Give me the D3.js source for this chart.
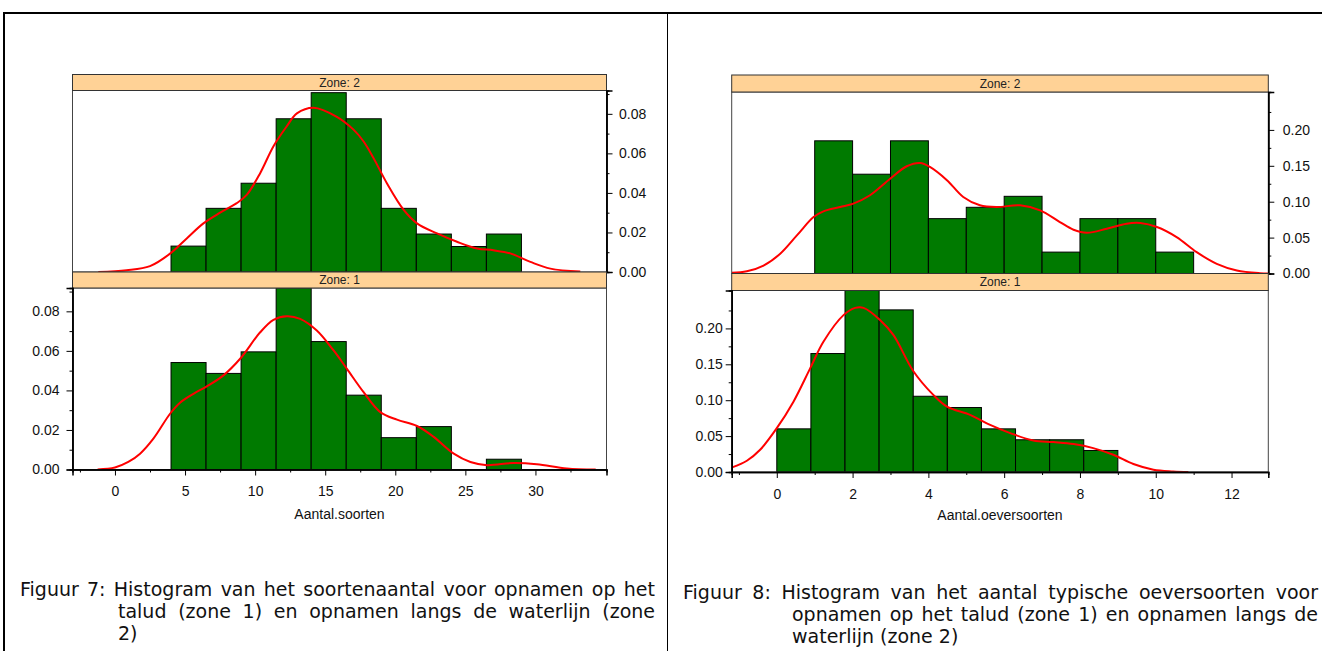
<!DOCTYPE html>
<html>
<head>
<meta charset="utf-8">
<script src="https://cdn.jsdelivr.net/npm/d3@7"></script>
<style>
  body { margin: 0; background: #fff; }
  svg { display: block; }
</style>
</head>
<body>
<svg id="fig" width="1322" height="651"></svg>
<script>
// ---- data ----
// Figuur 7: Aantal.soorten (bin width 2.5)
const soortenBreaks = [4, 6.5, 9, 11.5, 14, 16.5, 19, 21.5, 24, 26.5, 29];
const soortenZone2 = [0.0131, 0.0322, 0.0449, 0.0775, 0.0907, 0.0775, 0.0322, 0.0192, 0.0129, 0.0192];
const soortenZone1 = [0.0541, 0.0486, 0.0595, 0.0919, 0.0647, 0.0376, 0.0161, 0.0217, 0, 0.0052];
const soortenDensZone2 = [[-1.19,0],[0.83,0.0009],[2.5,0.003],[3.93,0.0093],[5.12,0.017],[6.31,0.0246],[7.5,0.030],
  [8.69,0.0348],[9.4,0.039],[10.36,0.050],[11.31,0.0636],[12.26,0.0737],[12.98,0.0802],[14.17,0.0831],[15.83,0.0785],
  [17.02,0.072],[17.74,0.066],[18.45,0.0576],[19.4,0.0449],[20.6,0.0314],[21.55,0.0246],[22.98,0.0195],[24.4,0.0153],
  [25.83,0.0119],[27.0,0.011],[28.2,0.0094],[29.64,0.0051],[31.07,0.0017],[33.2,0.0002]];
const soortenDensZone1 = [[-1.24,0],[0,0.001],[0.95,0.0038],[1.79,0.008],[2.74,0.0156],[3.93,0.0282],[4.64,0.0338],
  [5.6,0.0383],[6.55,0.042],[7.74,0.0476],[8.93,0.056],[10.36,0.0694],[11.31,0.0757],[12.26,0.0775],[13.21,0.0762],
  [14.4,0.0703],[15.6,0.0602],[16.55,0.0509],[17.74,0.0391],[18.93,0.029],[20.12,0.0252],[21.55,0.022],[22.74,0.0165],
  [24.17,0.008],[25.36,0.0038],[26.55,0.0022],[28.45,0.0033],[30.1,0.0027],[32.24,0.0005],[34.3,0]];

// Figuur 8: Aantal.oeversoorten
const oeverBreaks2 = [1, 2, 3, 4, 5, 6, 7, 8, 9, 10, 11];
const oeverZone2 = [0.1848, 0.1383, 0.1848, 0.0764, 0.0922, 0.1075, 0.0298, 0.0764, 0.0764, 0.0298];
const oeverBreaks1 = [0, 0.9, 1.8, 2.7, 3.6, 4.5, 5.4, 6.3, 7.2, 8.1, 9.0];
const oeverZone1 = [0.0601, 0.165, 0.285, 0.2258, 0.1055, 0.0898, 0.0601, 0.0449, 0.0449, 0.030];
const oeverDensZone2 = [[-1.19,0.001],[-0.79,0.003],[-0.35,0.011],[0.09,0.0275],[0.53,0.053],[0.97,0.0786],[1.23,0.0866],
  [1.67,0.0926],[2.02,0.0973],[2.46,0.109],[2.99,0.132],[3.43,0.1494],[3.78,0.154],[4.04,0.1485],[4.49,0.13],
  [4.92,0.1066],[5.36,0.095],[5.8,0.0926],[6.42,0.095],[6.95,0.088],[7.47,0.0717],[7.83,0.061],[8.18,0.0568],
  [8.71,0.0624],[9.23,0.0694],[9.59,0.0703],[10.03,0.0647],[10.55,0.0507],[11.08,0.0297],[11.61,0.0135],
  [12.14,0.0042],[12.75,0.0004],[12.97,0]];
const oeverDensZone1 = [[-1.18,0.0064],[-0.79,0.0157],[-0.44,0.031],[0,0.0611],[0.44,0.098],[0.88,0.1444],[1.23,0.1814],
  [1.76,0.2185],[2.07,0.2286],[2.29,0.2286],[2.73,0.2115],[3.08,0.1907],[3.6,0.1407],[4.13,0.1074],[4.49,0.0911],
  [5.1,0.0796],[5.63,0.0657],[6.16,0.0542],[6.77,0.0439],[7.3,0.0417],[7.83,0.0389],[8.35,0.0333],[8.88,0.024],
  [9.41,0.0111],[9.94,0.0032],[10.46,0.0008],[10.86,0]];

const soortenXTicks = [0, 5, 10, 15, 20, 25, 30];
const soortenXMinor = [-2.5, 2.5, 7.5, 12.5, 17.5, 22.5, 27.5, 32.5];
const soortenYTicks = [0, 0.02, 0.04, 0.06, 0.08];
const soortenYMinor = [0.01, 0.03, 0.05, 0.07, 0.09];
const oeverXTicks = [0, 2, 4, 6, 8, 10, 12];
const oeverXMinor = [-1, 1, 3, 5, 7, 9, 11];
const oeverYTicks = [0, 0.05, 0.10, 0.15, 0.20];
const oeverYMinor = [0.025, 0.075, 0.125, 0.175, 0.225];

const caption7 = [
  "Figuur 7: Histogram van het soortenaantal voor opnamen op het",
  "talud (zone 1) en opnamen langs de waterlijn (zone",
  "2)"];
const caption8 = [
  "Figuur 8: Histogram van het aantal typische oeversoorten voor",
  "opnamen op het talud (zone 1) en opnamen langs de",
  "waterlijn (zone 2)"];

// ---- drawing ----
const svg = d3.select("#fig");
const axisFont = "'Liberation Sans', Arial, sans-serif";
const capFont = "'DejaVu Sans', Verdana, sans-serif";
const stripFill = "#ffd296";
const barFill = "#007a00";

// page frame (table borders)
svg.append("line").attr("x1", 3).attr("x2", 1322).attr("y1", 13).attr("y2", 13)
  .attr("stroke", "#000").attr("stroke-width", 2);
svg.append("line").attr("x1", 4).attr("x2", 4).attr("y1", 12).attr("y2", 651)
  .attr("stroke", "#000").attr("stroke-width", 2);
svg.append("line").attr("x1", 667.5).attr("x2", 667.5).attr("y1", 13).attr("y2", 651)
  .attr("stroke", "#000").attr("stroke-width", 1);

let clipId = 0;

function drawChart(cfg) {
  const x = d3.scaleLinear().domain(cfg.xDomain).range([cfg.left, cfg.right]);
  const stripH = cfg.stripH, panelH = cfg.panelH;
  // zone 2 on top, zone 1 below
  const panels = [
    {label: "Zone: 2", breaks: cfg.breaks2, vals: cfg.zone2, dens: cfg.dens2, top: cfg.top},
    {label: "Zone: 1", breaks: cfg.breaks1, vals: cfg.zone1, dens: cfg.dens1, top: cfg.top + stripH + panelH}
  ];

  panels.forEach(function (p, i) {
    const pTop = p.top + stripH, pBot = pTop + panelH;
    const y = d3.scaleLinear().domain([0, cfg.yMax]).range([pBot, pTop]);
    const id = "clip" + (clipId++);
    svg.append("clipPath").attr("id", id).append("rect")
      .attr("x", cfg.left).attr("y", pTop).attr("width", cfg.right - cfg.left).attr("height", panelH);

    const g = svg.append("g").attr("clip-path", "url(#" + id + ")");
    const bins = p.vals.map((v, k) => ({x0: p.breaks[k], x1: p.breaks[k + 1], v: v})).filter(d => d.v > 0);
    g.selectAll("rect.bar").data(bins).enter().append("rect")
      .attr("class", "bar")
      .attr("x", d => x(d.x0)).attr("width", d => x(d.x1) - x(d.x0))
      .attr("y", d => y(d.v)).attr("height", d => y(0) - y(d.v))
      .attr("fill", barFill).attr("stroke", "#000").attr("stroke-width", 1);

    g.append("path").datum(p.dens)
      .attr("d", d3.line().x(d => x(d[0])).y(d => y(d[1])).curve(d3.curveCatmullRom))
      .attr("fill", "none").attr("stroke", "#ff0000").attr("stroke-width", 2);

    // panel border
    svg.append("rect").attr("x", cfg.left).attr("y", pTop).attr("width", cfg.right - cfg.left).attr("height", panelH)
      .attr("fill", "none").attr("stroke", "#444").attr("stroke-width", 1);

    // strip
    svg.append("rect").attr("x", cfg.left).attr("y", p.top).attr("width", cfg.right - cfg.left).attr("height", stripH)
      .attr("fill", stripFill).attr("stroke", "#333").attr("stroke-width", 1);
    svg.append("text").attr("x", (cfg.left + cfg.right) / 2).attr("y", p.top + stripH / 2 + 4)
      .attr("text-anchor", "middle").attr("font-family", axisFont).attr("font-size", 12)
      .attr("fill", "#222").text(p.label);

    // y axis: right side for top panel, left side for bottom panel (lattice alternation)
    const isTop = i === 0;
    const mk = isTop ? d3.axisRight : d3.axisLeft;
    const ax = isTop ? cfg.right : cfg.left;
    const pad = isTop ? cfg.padYRight : cfg.padYLeft;
    const major = svg.append("g").attr("transform", `translate(${ax},0)`)
      .call(mk(y).tickValues(cfg.yTicks).tickSize(6).tickPadding(pad).tickFormat(d3.format(".2f")));
    const minor = svg.append("g").attr("transform", `translate(${ax},0)`)
      .call(mk(y).tickValues(cfg.yMinor.filter(v => v <= cfg.yMax)).tickSize(3).tickFormat(""));
    [major, minor].forEach(function (a) {
      a.select(".domain").attr("stroke", "#000").attr("stroke-width", 1.5);
      a.selectAll("text").attr("font-family", axisFont).attr("font-size", 14).attr("fill", "#111");
    });

    if (!isTop) {
      const xa = svg.append("g").attr("transform", `translate(0,${pBot})`)
        .call(d3.axisBottom(x).tickValues(cfg.xTicks).tickSize(6).tickPadding(11).tickFormat(d3.format("d")));
      const xm = svg.append("g").attr("transform", `translate(0,${pBot})`)
        .call(d3.axisBottom(x).tickValues(cfg.xMinor).tickSize(3).tickFormat(""));
      [xa, xm].forEach(function (a) {
        a.select(".domain").attr("stroke", "#000").attr("stroke-width", 1.5);
        a.selectAll("text").attr("font-family", axisFont).attr("font-size", 14).attr("fill", "#111");
      });
      svg.append("text").attr("x", (cfg.left + cfg.right) / 2).attr("y", pBot + cfg.titleOffset)
        .attr("text-anchor", "middle").attr("font-family", axisFont).attr("font-size", 14)
        .attr("fill", "#111").text(cfg.xTitle);
    }
  });
}

drawChart({
  left: 72.5, right: 606.5, top: 74.5, stripH: 16, panelH: 181.5,
  xDomain: [-3.03, 35.07], yMax: 0.0918,
  breaks2: soortenBreaks, zone2: soortenZone2, dens2: soortenDensZone2,
  breaks1: soortenBreaks, zone1: soortenZone1, dens1: soortenDensZone1,
  xTicks: soortenXTicks, xMinor: soortenXMinor, yTicks: soortenYTicks, yMinor: soortenYMinor,
  padYRight: 6.5, padYLeft: 7, titleOffset: 49, xTitle: "Aantal.soorten"
});

drawChart({
  left: 731.7, right: 1268.3, top: 75, stripH: 17, panelH: 181.5,
  xDomain: [-1.19, 12.97], yMax: 0.2528,
  breaks2: oeverBreaks2, zone2: oeverZone2, dens2: oeverDensZone2,
  breaks1: oeverBreaks1, zone1: oeverZone1, dens1: oeverDensZone1,
  xTicks: oeverXTicks, xMinor: oeverXMinor, yTicks: oeverYTicks, yMinor: oeverYMinor,
  padYRight: 8.5, padYLeft: 3, titleOffset: 48, xTitle: "Aantal.oeversoorten"
});

// ---- captions, justified like the word processor did ----
function caption(lines, xFirst, xIndent, xEnd, y0, lineH) {
  lines.forEach(function (line, i) {
    const words = line.split(" ");
    const x0 = i === 0 ? xFirst : xIndent;
    const justify = i < lines.length - 1;
    const g = svg.append("g");
    const t = g.selectAll("text").data(words).enter().append("text")
      .attr("y", y0 + i * lineH).attr("font-family", capFont).attr("font-size", 19)
      .attr("fill", "#111").text(d => d);
    const widths = [];
    t.each(function () { widths.push(this.getComputedTextLength()); });
    const total = d3.sum(widths);
    const gap = justify && words.length > 1 ? (xEnd - x0 - total) / (words.length - 1) : 19 * 0.318;
    let cx = x0;
    t.attr("x", function (d, k) { const v = cx; cx += widths[k] + gap; return v; });
  });
}

caption(caption7, 20, 118, 655, 596, 22);
caption(caption8, 683, 792, 1318, 599, 22);
</script>
</body>
</html>
